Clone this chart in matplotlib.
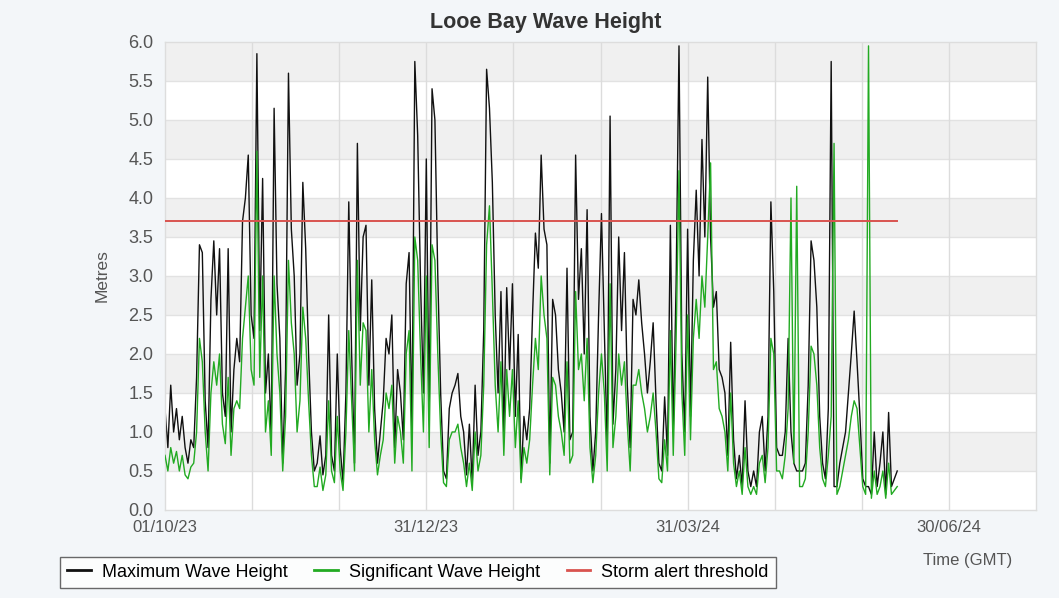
import matplotlib.pyplot as plt
import numpy as np
import pandas as pd

# daily readings from 01/10/2023
start = pd.Timestamp('2023-10-01')

max_height = [
    1.3, 0.8, 1.6, 1.0, 1.3, 0.9, 1.2, 0.8, 0.6, 0.9,
    0.8, 1.7, 3.4, 3.3, 1.4, 0.8, 2.7, 3.45, 2.5, 3.35,
    1.5, 1.2, 3.35, 1.0, 1.8, 2.2, 1.9, 3.7, 4.0, 4.55,
    2.5, 2.2, 5.85, 2.3, 4.25, 1.5, 2.0, 0.9, 5.15, 2.9,
    2.2, 0.6, 1.8, 5.6, 3.6, 3.0, 1.6, 2.0, 4.2, 3.35,
    2.0, 1.0, 0.5, 0.6, 0.95, 0.45, 0.7, 2.5, 0.7, 0.5,
    2.0, 0.8, 0.35, 1.5, 3.95, 2.0, 0.6, 4.7, 2.3, 3.5,
    3.65, 1.6, 2.95, 1.3, 0.6, 1.0, 1.4, 2.2, 2.0, 2.5,
    0.8, 1.8, 1.5, 0.9, 2.9, 3.3, 1.0, 5.75, 4.8, 2.9,
    1.5, 4.5, 1.2, 5.4, 5.0, 3.0, 1.5, 0.5, 0.4, 1.3,
    1.5, 1.6, 1.75, 1.2, 1.0, 0.45, 1.1, 0.35, 1.6, 0.7,
    1.0, 2.3, 5.65, 5.15, 4.2, 2.5, 1.5, 2.8, 1.0, 2.85,
    1.8, 2.9, 1.2, 2.25, 0.4, 1.2, 0.9, 1.3, 2.5, 3.55,
    3.1, 4.55, 3.6, 3.4, 0.6, 2.7, 2.5, 1.8, 1.5, 1.0,
    3.1, 0.9, 1.0, 4.55, 2.7, 3.35, 2.0, 3.85, 1.2, 0.5,
    1.0, 2.5, 3.8, 2.3, 0.8, 5.05, 1.1, 1.8, 3.5, 2.3,
    3.3, 1.6, 0.8, 2.7, 2.5, 2.95, 2.4, 2.0, 1.5, 1.9,
    2.4, 1.4, 0.6, 0.5, 1.45, 0.7, 3.65, 1.0, 2.9, 5.95,
    2.0, 1.0, 3.6, 1.2, 3.2, 4.1, 3.0, 4.75, 3.5, 5.55,
    3.5, 2.6, 2.8, 1.8, 1.7, 1.5, 0.7, 2.15, 0.9, 0.4,
    0.7, 0.3, 1.4, 0.5, 0.3, 0.5, 0.3, 1.0, 1.2, 0.5,
    1.2, 3.95, 2.8, 0.8, 0.7, 0.7, 1.0, 2.2, 1.0, 0.6,
    0.5, 0.5, 0.5, 0.6, 1.6, 3.45, 3.2, 2.6, 1.2, 0.6,
    0.4, 1.3, 5.75, 0.3, 0.3, 0.6, 0.8, 1.0, 1.5, 2.0,
    2.55, 1.9, 1.2, 0.4, 0.3, 0.3, 0.2, 1.0, 0.3, 0.6,
    1.0, 0.2, 1.25, 0.3, 0.4, 0.5,
]

sig_height = [
    0.7, 0.5, 0.8, 0.6, 0.75, 0.5, 0.7, 0.45, 0.4, 0.55,
    0.6, 1.0, 2.2, 1.9, 1.0, 0.5, 1.5, 1.9, 1.6, 2.0,
    1.1, 0.85, 1.7, 0.7, 1.3, 1.4, 1.3, 2.2, 2.6, 3.0,
    1.8, 1.6, 4.6, 1.7, 3.0, 1.0, 1.4, 0.7, 3.0, 2.0,
    1.5, 0.5, 1.2, 3.2, 2.4, 2.0, 1.0, 1.4, 2.6, 2.2,
    1.4, 0.7, 0.3, 0.3, 0.55, 0.25, 0.45, 1.4, 0.5, 0.35,
    1.2, 0.5, 0.25, 1.0, 2.3, 1.4, 0.5, 3.2, 1.6, 2.4,
    2.3, 1.0, 1.8, 0.9, 0.45, 0.7, 0.9, 1.5, 1.3, 1.6,
    0.6, 1.2, 1.0, 0.6, 2.0, 2.3, 0.5, 3.5, 3.2, 2.0,
    1.0, 3.0, 0.8, 3.4, 3.2, 2.0, 1.0, 0.35, 0.3, 0.9,
    1.0, 1.0, 1.1, 0.8, 0.6, 0.3, 0.6, 0.25, 1.0, 0.5,
    0.7, 1.6, 3.4, 3.9, 2.8, 1.6, 1.0, 1.9, 0.7, 1.8,
    1.2, 1.8, 0.8, 1.4, 0.35, 0.8, 0.6, 0.9, 1.6, 2.2,
    1.8, 3.0, 2.5, 2.2, 0.45, 1.7, 1.6, 1.2, 1.0, 0.7,
    1.9, 0.6, 0.7, 2.8, 1.8, 2.0, 1.4, 2.2, 0.8, 0.35,
    0.7, 1.5, 2.0, 1.5, 0.5, 2.9, 0.8, 1.2, 2.0, 1.6,
    1.9, 1.1, 0.5, 1.6, 1.6, 1.8, 1.5, 1.3, 1.0, 1.2,
    1.5, 1.0, 0.4, 0.35, 0.9, 0.5, 2.3, 0.7, 2.2, 4.35,
    1.5, 0.7, 2.5, 0.9, 2.2, 2.7, 2.2, 3.0, 2.6, 3.5,
    4.45, 1.8, 1.9, 1.3, 1.2, 1.0, 0.5, 1.5, 0.6, 0.3,
    0.5, 0.2, 0.8, 0.3, 0.2, 0.3, 0.2, 0.6, 0.7, 0.35,
    0.8, 2.2, 2.0, 0.5, 0.5, 0.4, 0.7, 1.3, 4.0, 0.6,
    4.15, 0.3, 0.3, 0.4, 1.0, 2.1, 2.0, 1.6, 0.8, 0.4,
    0.3, 0.7, 1.2, 4.7, 0.2, 0.3, 0.5, 0.7, 0.9, 1.2,
    1.4, 1.3, 0.8, 0.3, 0.2, 5.95, 0.15, 0.5, 0.2, 0.3,
    0.5, 0.15, 0.6, 0.2, 0.25, 0.3,
]

storm_threshold = 3.7
tick_dates = ['2023-10-01', '2023-12-31', '2024-03-31', '2024-06-30']

days = start + pd.to_timedelta(np.arange(len(max_height)), unit='D')
x_end = pd.Timestamp('2024-06-30') + pd.Timedelta(days=91 / 3)

plt.rcParams['font.family'] = ['Liberation Sans', 'DejaVu Sans']

fig = plt.figure(figsize=(10.59, 5.98), dpi=100, facecolor='#f3f6f9')
ax = fig.add_axes([0.1558, 0.1472, 0.8225, 0.7826])
ax.set_facecolor('white')

# grey bands every other half metre
for lo in np.arange(0.5, 6.0, 1.0):
    ax.axhspan(lo, lo + 0.5, color='#f0f0f0', zorder=0, lw=0)
for yv in np.arange(0.5, 6.0, 0.5):
    ax.axhline(yv, color='#e2e2e2', lw=1, zorder=0.5)

# vertical grid every ~month (a third of the tick spacing)
grid_dates = [pd.Timestamp('2023-10-01') + pd.Timedelta(days=91 / 3 * i) for i in range(1, 10)]
for gd in grid_dates:
    ax.axvline(gd, color='#dcdcdc', lw=1, zorder=0.5)

ax.plot(days, max_height, color='#111111', lw=1.0, label='Maximum Wave Height', zorder=2)
ax.plot(days, sig_height, color='#22aa22', lw=1.0, label='Significant Wave Height', zorder=3)
ax.plot([days[0], days[-1]], [storm_threshold, storm_threshold], color='#d9534f', lw=1.4,
        label='Storm alert threshold', zorder=4)

ax.set_xlim(start, x_end)
ax.set_ylim(0, 6)
ax.set_yticks(np.arange(0, 6.01, 0.5))
ax.set_yticklabels([f'{v:.1f}' for v in np.arange(0, 6.01, 0.5)], fontsize=13, color='#555555')
ax.set_xticks([pd.Timestamp(d) for d in tick_dates])
ax.set_xticklabels([pd.Timestamp(d).strftime('%d/%m/%y') for d in tick_dates], fontsize=12, color='#555555')
ax.tick_params(axis='y', length=0, pad=8.5)
ax.tick_params(axis='x', length=0, pad=7.5)
for s in ax.spines.values():
    s.set_color('#dddddd')
    s.set_linewidth(1)

ax.set_ylabel('Metres', fontsize=12.5, color='#555555', labelpad=13)
fig.suptitle('Looe Bay Wave Height', x=0.515, y=0.963, fontsize=15.5, fontweight='bold', color='#333333',
             va='center')
fig.text(0.914, 0.062, 'Time (GMT)', fontsize=12, color='#555555', ha='center', va='center')

leg = fig.legend(loc='lower left', bbox_to_anchor=(0.0567, 0.0167), ncol=3, fontsize=13,
                 frameon=True, fancybox=False, handlelength=1.3, handletextpad=0.6,
                 columnspacing=1.5, borderpad=0.4, borderaxespad=0)
leg.get_frame().set_edgecolor('#444444')
leg.get_frame().set_linewidth(1)
for line in leg.get_lines():
    line.set_linewidth(2)

plt.savefig('out.png', dpi=100, facecolor=fig.get_facecolor())
